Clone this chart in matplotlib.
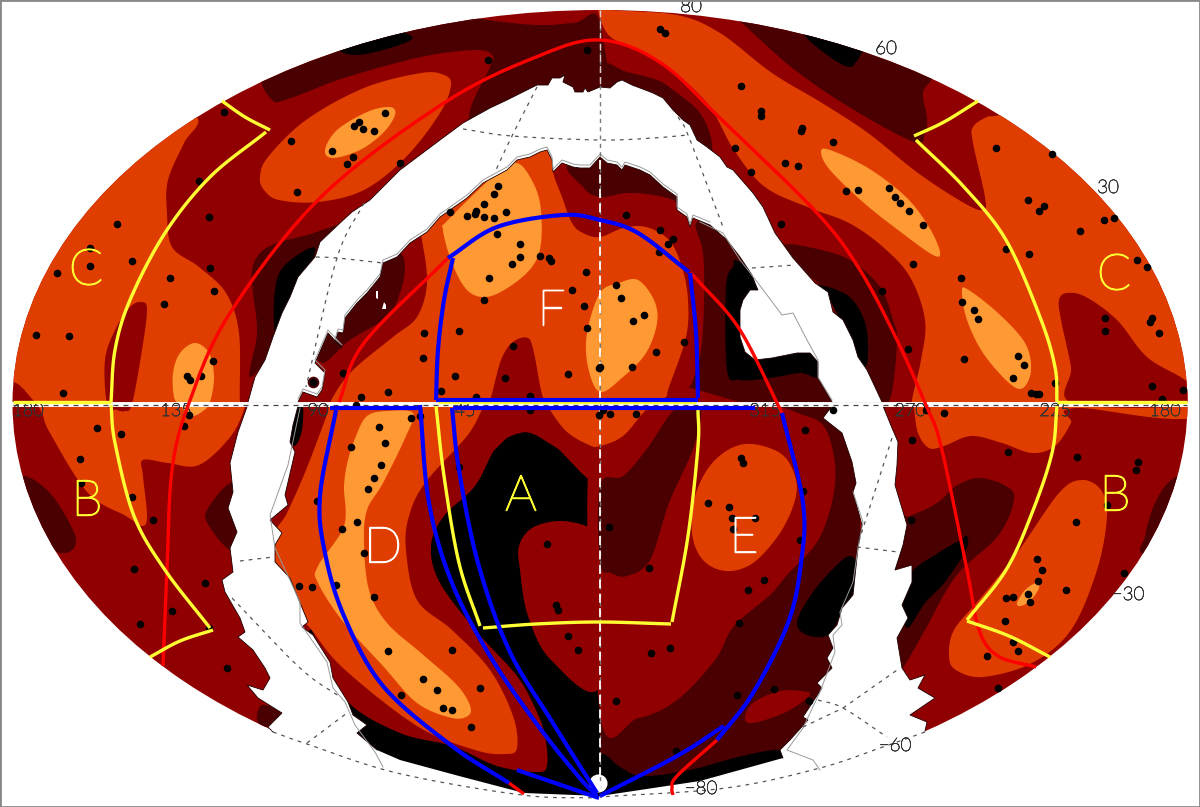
import numpy as np
import matplotlib
matplotlib.use("Agg")
import matplotlib.pyplot as plt
import matplotlib.patheffects as pe
from matplotlib.patches import Ellipse, Rectangle

DARK_RED = "#910000"
MAROON = "#4a0000"
BLACK = "#000000"
ORANGE = "#e03e00"
LIGHT = "#ff9933"

# contours of the map, in picture pixels
maroon_top_left = [(262,70),(272,100),(291,98),(344,78),(421,57),(475,50),(492,55),(490,67),(475,97),(469,117),(470,150),(600,150),(600,23),(574,23),(536,25),(475,18),(420,5),(300,20)]
maroon_strip_left = [(367,218),(307,235),(277,243),(260,253),(252,270),(253,293),(257,333),(250,377),(280,340),(330,260)]
maroon_edge_sw = [(23,476),(50,493),(73,530),(75,546),(65,553),(50,546),(20,500)]
maroon_spot_sw = [(230,483),(207,510),(209,526),(230,550),(248,545),(248,490)]
maroon_inner_left = [(398,252),(405,267),(400,293),(387,317),(350,340),(323,363),(320,340),(370,260)]
maroon_inner_top = [(573,160),(583,187),(600,197),(627,193),(653,195),(673,200),(690,210),(690,150)]
maroon_inner_right = [(696,223),(703,253),(704,300),(701,350),(692,383),(684,404),(835,404),(820,340),(760,260),(720,225)]
maroon_top_right = [(720,12),(738,20),(791,67),(849,107),(914,142),(925,133),(927,117),(923,93),(933,78),(950,50),(800,-10)]
maroon_ne_strip = [(600,65),(627,72),(657,80),(673,90),(700,113),(712,145),(700,165),(600,120)]
maroon_mask_right = [(783,245),(813,248),(850,260),(880,287),(893,320),(897,343),(888,404),(860,404),(830,300),(790,262)]
maroon_se = [(895,520),(910,516),(937,503),(956,486),(979,478),(1006,486),(1014,500),(998,536),(956,576),(925,630),(906,663),(897,672),(890,600)]
maroon_edge_se = [(1174,478),(1155,503),(1145,536),(1145,555),(1210,555),(1210,470)]
maroon_island = [(600,485),(623,476),(646,450),(676,408),(700,406),(694,446),(669,503),(650,560),(627,576),(611,573),(600,563)]
maroon_bottom_right = [(600,404),(860,404),(860,800),(600,800)]
maroon_sliver_sw = [(262,705),(282,713),(267,727),(257,720)]

black_spot_nw = [(339,50),(356,55),(383,50),(411,40),(406,33),(380,20),(335,35)]
black_mask_left = [(315,248),(285,265),(275,290),(275,333),(285,333),(300,290)]
black_mask_right = [(726,287),(733,267),(740,262),(790,300),(830,360),(818,377),(800,373),(770,378),(740,380),(727,370)]
black_ne = [(803,33),(830,57),(849,67),(856,62),(862,52),(875,25),(810,15)]
black_right_mask = [(817,285),(847,295),(863,317),(868,343),(865,367),(850,340),(830,300)]
black_se = [(912,572),(935,555),(960,540),(967,536),(966,550),(945,582),(925,603),(907,628),(903,600)]
black_sw_right = [(853,557),(840,562),(813,592),(797,622),(807,635),(828,635),(842,612),(852,595),(860,575)]
black_bottom_right = [(600,756),(620,767),(642,776),(690,770),(738,757),(778,750),(790,760),(783,810),(600,815)]
black_centre = [(300,640),(520,425),(600,475),(600,815),(300,815)]
black_mask_sliver = [(298,407),(303,407),(302,430),(296,445),(289,442),(293,425)]

dark_lobe = [(300,404),(600,404),(600,483),(555,446),(536,435),(520,433),(497,446),(475,486),(444,516),(431,546),(440,583),(478,633),(517,676),(536,710),(545,736),(547,766),(536,772),(497,766),(452,746),(400,733),(348,702),(320,650),(270,500)]
dark_a_island = [(519,546),(532,528),(559,521),(586,526),(600,537),(600,686),(551,660),(528,616),(520,570)]
dark_e = [(600,404),(753,404),(803,415),(825,428),(835,465),(832,502),(817,542),(787,575),(770,595),(734,626),(715,660),(677,700),(638,718),(600,713)]
dark_oval = [(745,718),(753,703),(780,691),(807,692),(807,698),(784,713),(753,723)]
dark_left_island = [(107,404),(105,360),(115,330),(130,307),(142,302),(147,310),(142,350),(132,404),(125,411),(117,410)]
dark_right_island = [(1075,404),(1071,367),(1061,320),(1059,300),(1067,293),(1086,297),(1117,320),(1147,357),(1185,380),(1210,404)]

orange_west = [(150,90),(197,117),(184,143),(168,180),(167,213),(172,247),(199,267),(226,293),(239,333),(240,402),(245,406),(231,436),(199,465),(168,463),(143,460),(143,476),(147,516),(142,526),(126,516),(88,493),(50,433),(42,413),(33,400),(13,382),(-10,395),(-10,100)]
orange_blob_nw = [(260,177),(268,157),(306,120),(364,88),(421,73),(444,75),(451,85),(440,113),(406,157),(364,190),(318,202),(279,200),(264,190)]
orange_east = [(598,6),(611,10),(677,15),(720,33),(772,73),(822,103),(868,133),(918,173),(964,203),(983,210),(985,197),(973,143),(973,127),(987,117),(1000,115),(1060,100),(1220,250),(1220,408),(1075,408),(1071,423),(1055,446),(1032,453),(1002,443),(971,436),(944,446),(929,448),(918,433),(914,408),(912,400),(921,360),(925,320),(910,277),(883,247),(849,223),(810,208),(765,187),(734,150),(707,103),(662,63),(620,43),(605,30)]
orange_centre = [(418,225),(422,240),(427,283),(417,317),(393,337),(353,370),(333,397),(325,420),(306,470),(287,513),(270,545),(285,600),(310,628),(343,668),(417,726),(475,750),(505,754),(517,748),(513,716),(490,670),(452,630),(417,600),(406,550),(409,516),(425,483),(467,436),(482,410),(490,400),(501,360),(513,342),(528,338),(534,353),(541,390),(547,405),(566,431),(589,445),(600,446),(623,436),(646,410),(665,398),(669,387),(686,337),(688,300),(682,267),(669,240),(646,227),(623,228),(600,237),(583,233),(572,223),(562,197),(553,172),(550,145),(500,150),(440,200)]
orange_e = [(692,533),(696,493),(715,460),(745,444),(780,453),(795,476),(795,500),(780,533),(753,563),(726,571),(703,560)]
orange_b = [(949,656),(954,630),(979,600),(1017,553),(1059,493),(1082,480),(1101,490),(1107,516),(1097,570),(1071,630),(1032,663),(983,677),(956,670)]

light_nw = [(325,150),(337,130),(367,112),(390,107),(395,115),(383,133),(360,150),(333,158)]
light_west = [(173,373),(180,353),(195,343),(209,353),(214,377),(210,402),(203,411),(191,416),(180,405),(174,397)]
light_f1 = [(443,230),(448,220),(500,170),(517,163),(530,177),(540,203),(541,243),(532,267),(509,287),(486,297),(467,290),(452,263)]
light_f2 = [(600,293),(619,283),(638,280),(654,300),(657,323),(646,353),(623,377),(600,392),(588,367),(587,333)]
light_d = [(356,436),(367,416),(387,411),(413,413),(406,436),(383,483),(367,510),(364,543),(369,590),(387,623),(421,653),(455,683),(469,703),(469,715),(452,718),(417,703),(383,666),(344,623),(318,583),(318,566),(344,526),(344,486),(348,460)]
light_ne1 = [(821,152),(830,150),(868,168),(906,197),(929,227),(940,252),(933,255),(902,233),(864,203),(830,170)]
light_ne2 = [(962,293),(967,289),(998,313),(1025,343),(1031,370),(1023,388),(1009,383),(983,353),(967,320)]
light_se = [(1017,603),(1025,590),(1036,583),(1039,588),(1031,600),(1021,606)]

# edges of the masked band
upper_outer = [(248,402),(255,377),(265,360),(273,337),(282,313),(290,297),(298,277),(315,257),(320,242),(340,223),(352,212),(370,200),(400,170),(440,140),(463,123),(490,108),(507,100),(523,92),(537,85),(548,85),(552,78),(560,78),(565,75),(563,82),(573,87),(575,92),(583,92),(585,88),(588,92),(600,87),(610,88),(617,82),(622,80),(632,85),(640,88),(653,93),(663,98),(673,110),(683,120),(690,125),(697,140),(707,147),(720,157),(727,167),(733,170),(753,193),(763,207),(775,233),(793,258),(815,283),(828,292),(833,312),(843,320),(853,340),(858,357),(867,370),(875,387),(882,402)]
upper_inner = [(832,402),(818,378),(818,362),(810,353),(797,353),(772,358),(755,360),(745,352),(740,337),(740,310),(743,300),(750,290),(758,290),(755,283),(752,275),(740,257),(727,240),(710,225),(693,218),(690,227),(687,217),(677,210),(677,197),(663,187),(650,175),(640,170),(625,165),(622,170),(617,165),(607,163),(600,157),(590,168),(580,168),(573,167),(562,163),(553,172),(552,160),(547,150),(540,152),(530,157),(517,160),(507,170),(483,183),(467,198),(450,210),(440,217),(427,232),(410,243),(397,257),(383,263),(380,277),(367,293),(357,303),(345,318),(343,333),(338,332),(335,342),(342,348),(328,333),(315,363),(325,373),(322,390),(317,397),(303,392),(298,402)]
lower_left = [(248,404),(238,432),(230,463),(233,492),(228,508),(237,532),(230,548),(233,572),(222,580),(225,592),(240,618),(245,632),(238,637),(253,650),(265,668),(270,678),(263,690),(247,685),(258,698),(282,713),(268,727),(273,732)]
lower_bottom = [(300,770),(400,815),(800,815)]
lower_right = [(925,731),(927,722),(910,715),(935,698),(918,688),(925,675),(910,680),(902,668),(897,638),(908,618),(902,605),(912,582),(912,565),(895,570),(903,545),(907,525),(895,485),(897,465),(898,442),(892,428),(883,406)]
lower_inner_right = [(832,406),(823,418),(842,433),(852,462),(856,483),(853,492),(862,525),(858,548),(853,595),(842,608),(837,625),(828,635),(833,648),(827,658),(832,668),(817,683),(822,688),(803,717),(808,720),(790,740),(780,750),(783,758)]
lower_chord = [(700,781),(600,796),(524,793),(459,776),(400,760)]
lower_inner_left = [(377,750),(357,733),(367,725),(353,715),(348,702),(333,678),(330,662),(313,635),(302,627),(308,622),(298,598),(290,578),(275,562),(275,545),(282,533),(270,520),(288,505),(285,495),(295,452),(290,442),(293,425),(298,406)]
hole_a = [(376,291),(378,291),(378,299),(376,298)]
hole_b = [(384,302),(386,305),(386,309),(382,309)]

# thin grey outline of the original mask
grey_line_a = [(700,222),(723,233),(740,260),(758,283),(782,315),(793,313),(807,340),(818,360),(818,377),(832,400)]
grey_line_b = [(300,408),(288,465),(270,515),(275,548),(300,602),(300,623),(327,662),(333,688),(345,702),(355,725),(375,752),(383,767)]
grey_line_c = [(853,492),(863,522),(858,548),(853,582),(840,612),(842,625),(833,635),(835,652),(820,692),(803,728),(787,750),(813,760),(820,770)]
grey_line_d = [(298,399),(303,389),(317,394),(322,387),(325,370),(315,360),(328,330),(342,345),(335,339),(338,329),(343,330),(345,315),(357,300),(367,290),(380,274),(383,260),(397,254),(410,240),(427,229),(440,214),(450,207),(467,195),(483,180),(507,167),(517,157),(530,154),(540,149),(547,147),(552,157),(553,169),(562,160),(573,164),(580,165),(590,165),(600,154),(607,160),(617,162),(622,167),(625,162),(640,167),(650,172),(663,184),(677,194),(677,207),(687,214),(690,224),(693,215),(710,222)]

# yellow fields
yellow_lines = [
    [(13,402),(111,402)],
    [(111,402),(115,350),(130,300),(165,233),(210,177),(266,132)],
    [(222,101),(245,117),(270,130)],
    [(111,405),(115,443),(134,516),(165,570),(210,628)],
    [(213,630),(180,641),(150,657)],
    [(1187,402),(1057,402)],
    [(1057,402),(1055,367),(1040,317),(1006,240),(964,187),(916,140)],
    [(914,136),(944,122),(978,101)],
    [(1057,406),(1052,453),(1032,513),(1006,570),(967,620)],
    [(967,621),(1009,636),(1050,657)],
    [(438,402),(696,402)],
    [(436,406),(444,476),(459,563),(480,626)],
    [(483,628),(536,624),(599,622),(671,624)],
    [(672,622),(688,536),(698,446),(698,410)],
]
# blue fields
blue_lines = [
    [(436,400),(698,400)],
    [(330,408),(419,408)],
    [(453,408),(755,408)],
    [(448,258),(497,227),(563,215),(600,220),(638,233),(689,272)],
    [(453,258),(444,300),(438,350),(436,400)],
    [(690,273),(696,333),(698,398)],
    [(336,410),(320,496),(325,553),(344,616),(383,686),(452,746),(509,783)],
    [(420,405),(429,503),(452,583),(490,656),(536,723),(578,776),(597,796)],
    [(452,408),(459,470),(478,563),(509,650),(551,720),(597,793)],
    [(517,770),(599,798)],
    [(782,413),(803,503),(801,563),(788,623),(753,693),(717,740)],
    [(724,726),(677,756),(600,796)],
]
# red curves
red_lines = [
    [(163,666),(167,570),(172,470),(189,403),(230,313),(321,197),(444,103),(536,57),(600,40),(661,63),(722,120),(817,213),(860,270),(897,340),(925,403),(941,446),(967,570),(979,630),(998,656),(1036,667)],
    [(339,402),(364,343),(448,258)],
    [(690,273),(700,283),(740,330),(782,413)],
    [(717,740),(677,776),(672,788),(673,795)],
    [(509,783),(524,794)],
]

grid_lines = [
    [(463,129),(512,136),(600,140),(653,138),(688,135)],
    [(537,87),(512,136),(495,172)],
    [(364,203),(337,258),(306,387)],
    [(316,257),(337,258),(383,263)],
    [(678,117),(688,135),(723,227)],
    [(752,268),(795,265)],
    [(892,438),(857,547)],
    [(857,547),(898,552)],
    [(818,700),(843,708),(887,737)],
    [(843,708),(900,668)],
    [(803,727),(843,708)],
    [(925,732),(880,748),(820,768),(726,788),(600,797)],
    [(240,561),(273,557)],
    [(232,598),(300,668),(340,697)],
    [(307,743),(347,713)],
    [(273,732),(307,744),(397,773),(522,795),(599,798)],
]

dots_x = [224,199,209,117,90,90,132,57,210,170,214,164,36,69,213,187,190,201,63,291,385,359,354,363,374,332,353,347,297,400,488,587,498,494,484,450,476,475,467,484,494,506,497,520,520,512,540,549,551,489,586,572,584,484,587,424,459,513,423,455,343,505,568,441,388,361,313,476,530,599,
          660,665,741,761,761,802,801,833,785,798,751,735,781,846,858,889,895,900,909,923,913,882,908,996,1052,1028,1044,1039,1104,1114,1080,1006,1029,961,962,974,978,964,1018,1024,1013,1031,1036,1039,1055,1137,1147,1105,1105,1152,1150,1159,1152,1183,1162,626,660,673,668,659,616,621,633,644,684,656,632,600,
          97,121,80,81,132,153,134,205,172,140,209,227,184,189,356,411,420,379,385,351,381,374,368,317,342,357,364,299,312,336,374,388,452,423,437,480,401,443,452,471,459,547,556,558,568,578,530,599,
          603,610,636,741,743,708,729,732,755,733,805,803,800,609,649,764,748,739,670,651,616,737,774,809,676,833,944,926,912,1008,1077,1138,1136,1107,1076,911,1124,1037,1042,1038,1066,1028,1030,1006,1013,1005,1013,1018,987,998]
dots_y = [112,181,217,224,248,266,261,273,268,278,291,304,335,336,361,376,380,376,393,141,113,122,126,129,131,151,157,164,192,163,60,50,186,194,204,212,211,214,216,217,218,212,234,244,257,264,256,258,261,278,272,290,306,300,328,333,331,346,358,376,373,378,374,391,392,397,382,397,396,368,
          29,33,86,111,116,128,131,142,163,166,172,148,224,191,190,188,197,203,211,225,264,291,349,148,154,200,206,211,220,218,231,249,254,278,302,310,319,359,356,365,378,393,394,394,383,260,267,318,331,318,322,333,386,390,399,215,230,239,244,252,285,298,321,315,342,352,367,367,
          428,434,459,483,497,520,569,583,611,624,628,668,426,415,405,418,416,427,443,447,465,478,489,501,529,522,553,586,587,585,597,651,650,679,690,688,695,708,710,727,467,544,605,610,636,650,410,415,
          410,414,414,458,463,503,507,518,518,529,430,491,540,527,568,580,590,623,648,653,701,695,689,701,751,410,413,410,440,452,457,462,470,505,522,520,573,559,570,581,590,594,602,598,597,621,642,651,656,688]

field_names = ["C","C","B","B","A","F","D","E"]
field_x = [86,1114,87,1115,521,551,383,744]
field_y = [271,276,502,497,497,311,549,539]
field_colors = ["#ffff33","#ffff33","#ffff33","#ffff33","#ffff33","white","white","white"]

lon_labels = ["180","135","90","45","315","270","225","180"]
lon_x = [28,176,318,465,765,910,1055,1165]
lat_labels = ["80","60","30","\u221230","\u221260","\u221280"]
lat_x = [691,886,1108,1128,895,701]
lat_y = [7,49,188,595,746,789]


def smooth(pts, closed=True, n=14):
    # catmull-rom through the picked points
    p = np.array(pts, dtype=float)
    if closed:
        p = np.vstack([p[-1], p, p[0], p[1]])
    else:
        p = np.vstack([2 * p[0] - p[1], p, 2 * p[-1] - p[-2]])
    t = np.linspace(0, 1, n, endpoint=False)[:, None]
    out = []
    for i in range(1, len(p) - 2):
        a, b, c, d = p[i - 1], p[i], p[i + 1], p[i + 2]
        out.append(0.5 * (2 * b + (c - a) * t + (2 * a - 5 * b + 4 * c - d) * t ** 2 + (3 * b - a - 3 * c + d) * t ** 3))
    out = np.vstack(out)
    if not closed:
        out = np.vstack([out, p[-2]])
    return out


fig = plt.figure(figsize=(12, 8.07), dpi=100)
ax = fig.add_axes([0, 0, 1, 1])
ax.set_xlim(0, 1200)
ax.set_ylim(807, 0)
ax.axis("off")

sky = Ellipse((600, 403.5), 1175, 787, facecolor=DARK_RED, edgecolor="none", zorder=1)
ax.add_patch(sky)


def fill(pts, color, z):
    xy = smooth(pts)
    for patch in ax.fill(xy[:, 0], xy[:, 1], color=color, lw=0, zorder=z):
        patch.set_clip_path(sky)


for poly in [maroon_top_left, maroon_strip_left, maroon_edge_sw, maroon_spot_sw, maroon_inner_left,
             maroon_inner_top, maroon_inner_right, maroon_top_right, maroon_ne_strip, maroon_mask_right,
             maroon_se, maroon_edge_se, maroon_sliver_sw]:
    fill(poly, MAROON, 2)
for poly in [black_spot_nw, black_mask_left, black_mask_right, black_ne, black_right_mask, black_se]:
    fill(poly, BLACK, 3)
ax.fill(*zip(*black_centre), color=BLACK, lw=0, zorder=4, clip_path=sky)
fill(dark_lobe, DARK_RED, 5)
fill(dark_a_island, DARK_RED, 5)
ax.fill(*zip(*maroon_bottom_right), color=MAROON, lw=0, zorder=6, clip_path=sky)
fill(dark_e, DARK_RED, 7)
fill(maroon_island, MAROON, 8)
fill(dark_oval, DARK_RED, 8)
fill(black_sw_right, BLACK, 8)
fill(black_bottom_right, BLACK, 8)
for poly in [orange_west, orange_blob_nw, orange_east, orange_centre, orange_e, orange_b]:
    fill(poly, ORANGE, 9)
fill(dark_left_island, DARK_RED, 10)
fill(dark_right_island, DARK_RED, 10)
for poly in [light_nw, light_west, light_f1, light_f2, light_d, light_ne1, light_ne2, light_se]:
    fill(poly, LIGHT, 11)
fill(black_mask_sliver, BLACK, 11)

# masked galactic plane
mask_upper = upper_outer + upper_inner
mask_lower = lower_left + lower_bottom + lower_right + lower_inner_right + lower_chord + lower_inner_left
for poly in [mask_upper, mask_lower, hole_a, hole_b]:
    ax.fill(*zip(*poly), color="white", lw=0, zorder=12)
ax.scatter([598], [783], s=170, color="white", lw=0, zorder=12)
ax.scatter([313], [382], s=70, color=MAROON, lw=0, zorder=13)
for edge in [upper_outer, upper_inner, lower_left, lower_right, lower_inner_right, lower_inner_left]:
    ax.plot(*zip(*edge), color="#200000", lw=0.6, zorder=13)
for line in [grey_line_a, grey_line_b, grey_line_c, grey_line_d]:
    ax.plot(*zip(*line), color="#999999", lw=0.7, zorder=13)

ax.plot([13, 1187], [404, 404], color="white", lw=3.5, zorder=13)
ax.plot([13, 1187], [405, 405], color="#444444", lw=0.9, ls=(0, (4, 4)), zorder=14)
for line in grid_lines:
    xy = smooth(line, closed=False)
    ax.plot(xy[:, 0], xy[:, 1], color="#555555", lw=0.9, ls=(0, (3, 4)), zorder=13)
ax.plot([600, 600], [10, 797], color="#777777", lw=1.0, ls=(0, (3, 3)), zorder=13)
ax.plot([600, 600], [10, 88], color="#e0c8c8", lw=1.0, ls=(0, (5, 3)), zorder=13)
ax.plot([600, 600], [160, 403], color="white", lw=1.3, ls=(0, (5, 3)), zorder=13)
ax.plot([600, 600], [406, 790], color="white", lw=1.3, ls=(0, (5, 3)), zorder=13)

ax.scatter(dots_x, dots_y, s=30, color="black", lw=0, zorder=15)

for line in red_lines:
    xy = smooth(line, closed=False)
    ax.plot(xy[:, 0], xy[:, 1], color="#ff0000", lw=2.4, zorder=16, solid_capstyle="butt")
for line in yellow_lines:
    xy = smooth(line, closed=False)
    ax.plot(xy[:, 0], xy[:, 1], color="#ffff33", lw=2.4, zorder=17, solid_capstyle="butt")
for line in blue_lines:
    xy = smooth(line, closed=False)
    ax.plot(xy[:, 0], xy[:, 1], color="#0000ff", lw=3.0, zorder=18, solid_capstyle="butt")

for name, x, y, c in zip(field_names, field_x, field_y, field_colors):
    t = ax.text(x, y, name, color=c, fontsize=36, ha="center", va="center", family=["Lato", "DejaVu Sans"], weight="light", zorder=19)
    t.set_path_effects([pe.withStroke(linewidth=1.0, foreground=c)])
for name, x in zip(lon_labels, lon_x):
    t = ax.text(x, 411, name, color="#333333", fontsize=13, ha="center", va="center", family=["Lato", "DejaVu Sans"], weight="light", zorder=14)
    t.set_path_effects([pe.withStroke(linewidth=0.5, foreground="#333333")])
for name, x, y in zip(lat_labels, lat_x, lat_y):
    t = ax.text(x, y, name, color="#333333", fontsize=13.5, ha="center", va="center", family=["Lato", "DejaVu Sans"], weight="light", zorder=19)
    t.set_path_effects([pe.withStroke(linewidth=0.5, foreground="#333333")])

fig.add_artist(Rectangle((0, 0), 1, 1, transform=fig.transFigure, fill=False, edgecolor="#888888", lw=2))

fig.savefig("out.png", dpi=100)
